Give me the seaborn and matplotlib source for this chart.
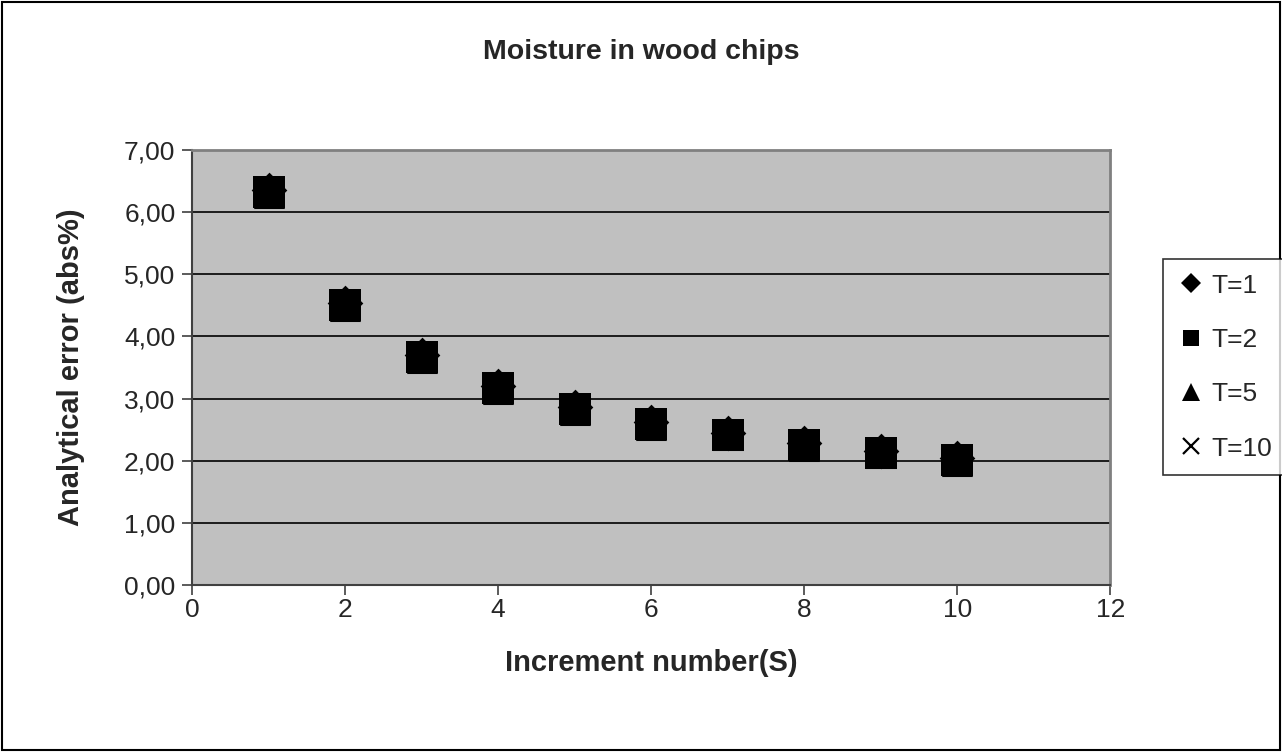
import matplotlib
matplotlib.use("Agg")
import matplotlib.pyplot as plt
import pandas as pd
import seaborn as sns

# Data
increments = [1, 2, 3, 4, 5, 6, 7, 8, 9, 10]
err_t1 = [6.36, 4.54, 3.70, 3.20, 2.86, 2.62, 2.44, 2.28, 2.15, 2.04]
err_t2 = [6.33, 4.51, 3.67, 3.17, 2.83, 2.59, 2.42, 2.25, 2.13, 2.02]
err_t5 = [6.31, 4.49, 3.66, 3.16, 2.82, 2.58, 2.41, 2.24, 2.12, 2.00]
err_t10 = [6.32, 4.50, 3.67, 3.17, 2.83, 2.59, 2.42, 2.25, 2.12, 2.01]
series_names = ["T=1", "T=2", "T=5", "T=10"]


def _build_frame() -> pd.DataFrame:
    parts = []
    for name, vals in zip(series_names, [err_t1, err_t2, err_t5, err_t10]):
        parts.append(pd.DataFrame({"S": increments, "err": vals, "series": name}))
    return pd.concat(parts, ignore_index=True)


def plot_chart() -> None:
    sns.set_style("white")
    plt.rcParams["font.family"] = ["Liberation Sans", "DejaVu Sans"]

    df = _build_frame()
    fig = plt.figure(figsize=(12.82, 7.52), dpi=100)
    ax = fig.add_axes([0.1498, 0.222, 0.7162, 0.5785])
    ax.set_facecolor("#C0C0C0")

    markers = {"T=1": "D", "T=2": "s", "T=5": "^", "T=10": "x"}
    sizes = {"T=1": 330, "T=2": 540, "T=5": 500, "T=10": 260}
    for name in series_names:
        sub = df[df["series"] == name]
        sns.scatterplot(
            data=sub, x="S", y="err", marker=markers[name], s=sizes[name],
            color="black", edgecolor="black",
            linewidth=1.5 if name == "T=10" else 0, ax=ax, zorder=3,
        )

    ax.set_xlim(0, 12)
    ax.set_ylim(0, 7)
    ax.set_xticks(range(0, 13, 2))
    ax.set_yticks(range(0, 8))
    ax.set_yticklabels(["{:.2f}".format(v).replace(".", ",") for v in range(0, 8)])
    ax.yaxis.grid(True, color="black", linewidth=1.2)
    ax.set_axisbelow(True)
    for side in ["top", "right"]:
        ax.spines[side].set_color("#808080")
        ax.spines[side].set_linewidth(2)
    for side in ["left", "bottom"]:
        ax.spines[side].set_color("#404040")
        ax.spines[side].set_linewidth(1.5)
    ax.tick_params(axis="both", direction="out", length=7, width=1.2,
                   color="#404040", labelsize=19, pad=5,
                   bottom=True, left=True)
    ax.tick_params(axis="x", pad=2)

    ax.set_xlabel("Increment number(S)", fontsize=21, fontweight="bold", va="center")
    ax.set_ylabel("Analytical error (abs%)", fontsize=21, fontweight="bold", va="center")
    ax.xaxis.set_label_coords(0.5, (585 - 663) / 435)
    ax.yaxis.set_label_coords((71 - 192) / 918, 0.5)
    fig.text(0.5, 1 - 52 / 752, "Moisture in wood chips", ha="center", va="center",
             fontsize=20.5, fontweight="bold")

    # legend with proxy markers
    handles = []
    legend_markers = {"T=1": ("D", 10), "T=2": ("s", 12), "T=5": ("^", 13), "T=10": ("x", 12)}
    for name in series_names:
        m, ms = legend_markers[name]
        h, = ax.plot([], [], linestyle="none", marker=m, markersize=ms, color="black",
                     markeredgewidth=1.6 if m == "x" else 0)
        handles.append(h)
    leg = fig.legend(handles, series_names, loc="upper left",
                     bbox_to_anchor=(1163 / 1282, 1 - 259 / 752),
                     fontsize=19, frameon=True, fancybox=False, handletextpad=0.3,
                     labelspacing=1.15, borderpad=0.55, handlelength=1.0,
                     borderaxespad=0)
    leg.get_frame().set_edgecolor("black")
    leg.get_frame().set_linewidth(1.2)

    # outer border of the chart area
    fig.patches.append(plt.Rectangle((0.0015, 0.002), 0.997, 0.996, transform=fig.transFigure,
                                     fill=False, edgecolor="black", linewidth=1.5))
    fig.savefig("out.png", dpi=100)


if __name__ == "__main__":
    plot_chart()
